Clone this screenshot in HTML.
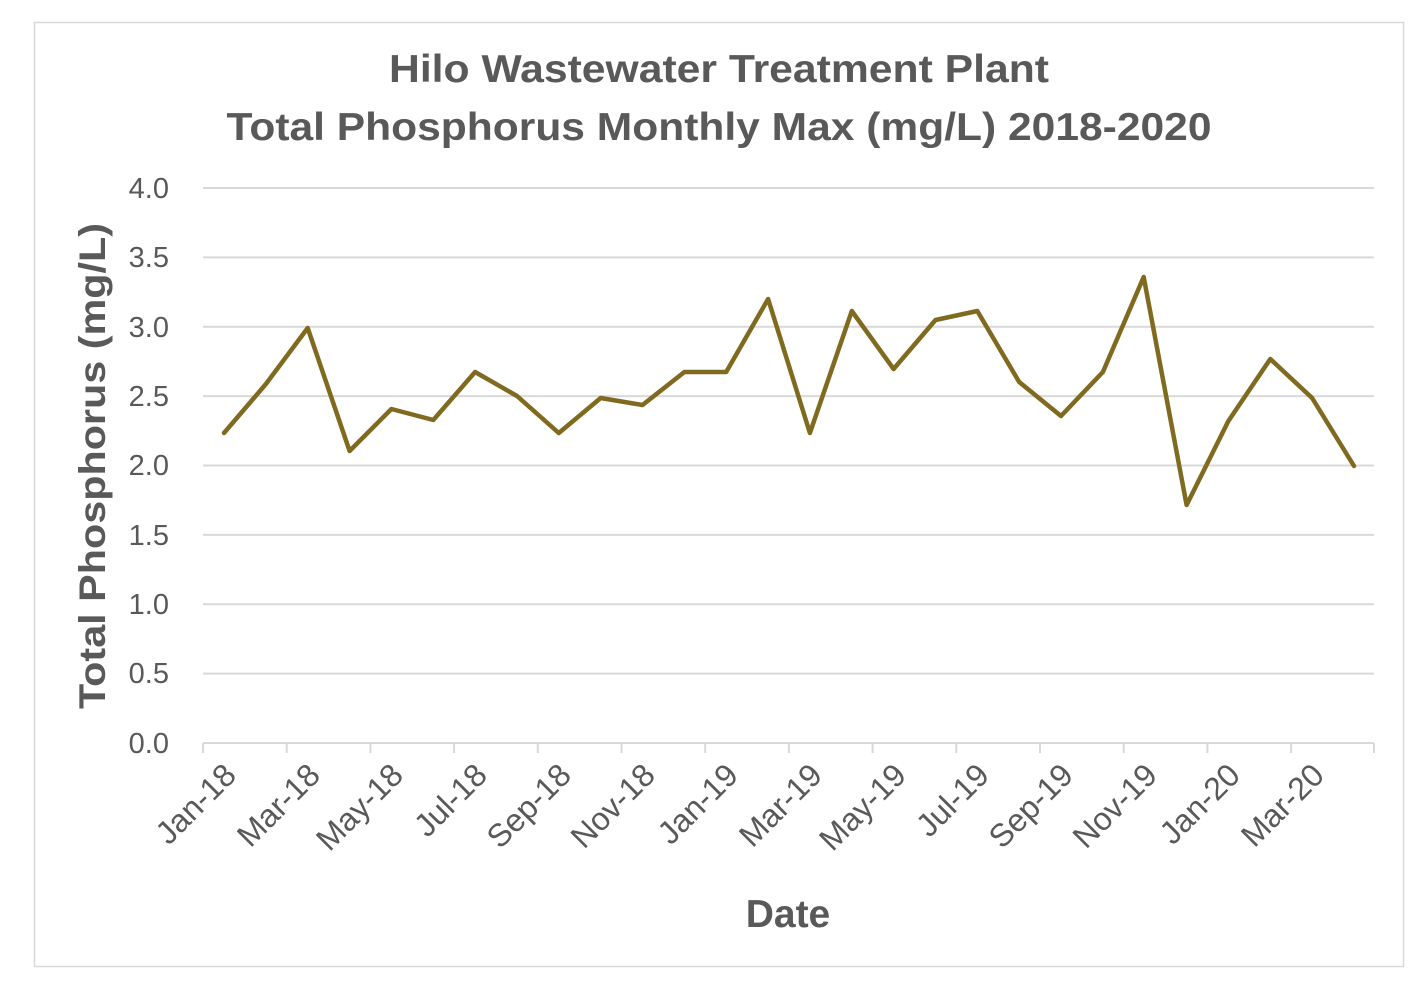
<!DOCTYPE html>
<html><head><meta charset="utf-8"><style>html,body{margin:0;padding:0;background:#fff}svg{display:block}</style></head>
<body>
<svg width="1428" height="982" xmlns="http://www.w3.org/2000/svg" font-family="'Liberation Sans', sans-serif">
<rect x="34.5" y="22.5" width="1369" height="944" fill="#fff" stroke="#d9d9d9" stroke-width="1.5"/>
<g fill="#595959" font-weight="bold" text-anchor="middle" font-size="39">
<text x="719" y="82" textLength="660" lengthAdjust="spacingAndGlyphs">Hilo Wastewater Treatment Plant</text>
<text x="719" y="140" textLength="985" lengthAdjust="spacingAndGlyphs">Total Phosphorus Monthly Max (mg/L) 2018-2020</text>
</g>
<g stroke="#d9d9d9" stroke-width="2">
<line x1="203" x2="1374" y1="188" y2="188"/><line x1="203" x2="1374" y1="257.4" y2="257.4"/>
<line x1="203" x2="1374" y1="326.8" y2="326.8"/><line x1="203" x2="1374" y1="396.1" y2="396.1"/>
<line x1="203" x2="1374" y1="465.5" y2="465.5"/><line x1="203" x2="1374" y1="534.9" y2="534.9"/>
<line x1="203" x2="1374" y1="604.3" y2="604.3"/><line x1="203" x2="1374" y1="673.6" y2="673.6"/>
<line x1="203" x2="1374" y1="743" y2="743"/>
<line x1="203" x2="203" y1="743" y2="753"/><line x1="286.7" x2="286.7" y1="743" y2="753"/>
<line x1="370.4" x2="370.4" y1="743" y2="753"/><line x1="454.1" x2="454.1" y1="743" y2="753"/>
<line x1="537.8" x2="537.8" y1="743" y2="753"/><line x1="621.5" x2="621.5" y1="743" y2="753"/>
<line x1="705.2" x2="705.2" y1="743" y2="753"/><line x1="788.9" x2="788.9" y1="743" y2="753"/>
<line x1="872.6" x2="872.6" y1="743" y2="753"/><line x1="956.3" x2="956.3" y1="743" y2="753"/>
<line x1="1040" x2="1040" y1="743" y2="753"/><line x1="1123.7" x2="1123.7" y1="743" y2="753"/>
<line x1="1207.4" x2="1207.4" y1="743" y2="753"/><line x1="1291.1" x2="1291.1" y1="743" y2="753"/>
<line x1="1374" x2="1374" y1="743" y2="753"/>
</g>
<g fill="#595959" font-size="29" text-anchor="end">
<text x="169" y="198">4.0</text><text x="169" y="267">3.5</text><text x="169" y="337">3.0</text>
<text x="169" y="406">2.5</text><text x="169" y="475">2.0</text><text x="169" y="545">1.5</text>
<text x="169" y="614">1.0</text><text x="169" y="683">0.5</text><text x="169" y="753">0.0</text>
</g>
<g fill="#595959" font-size="32" text-anchor="end">
<text transform="translate(238,777) rotate(-45)">Jan-18</text>
<text transform="translate(322,777) rotate(-45)">Mar-18</text>
<text transform="translate(405,777) rotate(-45)">May-18</text>
<text transform="translate(489,777) rotate(-45)">Jul-18</text>
<text transform="translate(573,777) rotate(-45)">Sep-18</text>
<text transform="translate(657,777) rotate(-45)">Nov-18</text>
<text transform="translate(740,777) rotate(-45)">Jan-19</text>
<text transform="translate(824,777) rotate(-45)">Mar-19</text>
<text transform="translate(908,777) rotate(-45)">May-19</text>
<text transform="translate(991,777) rotate(-45)">Jul-19</text>
<text transform="translate(1075,777) rotate(-45)">Sep-19</text>
<text transform="translate(1159,777) rotate(-45)">Nov-19</text>
<text transform="translate(1242,777) rotate(-45)">Jan-20</text>
<text transform="translate(1326,777) rotate(-45)">Mar-20</text>
</g>
<text x="788" y="927" fill="#595959" font-size="39" font-weight="bold" text-anchor="middle">Date</text>
<text transform="translate(105,466) rotate(-90)" fill="#595959" font-size="37" font-weight="bold" text-anchor="middle" textLength="486" lengthAdjust="spacingAndGlyphs">Total Phosphorus (mg/L)</text>
<polyline fill="none" stroke="#7f6a1f" stroke-width="4.5" stroke-linejoin="round" stroke-linecap="round"
points="224,433 265.9,384 307.7,328 349.6,451 391.4,409 433.3,420 475.1,372 517,396 558.8,433 600.7,398 642.5,405 684.4,372 726.2,372 768.1,299 809.9,433 851.8,311 893.6,369 935.5,320 977.3,311 1019.2,382 1061,416 1102.9,372 1143.7,277 1186.6,505 1228.4,421 1270.3,359 1312.1,398 1354,466"/>
</svg>
</body></html>
